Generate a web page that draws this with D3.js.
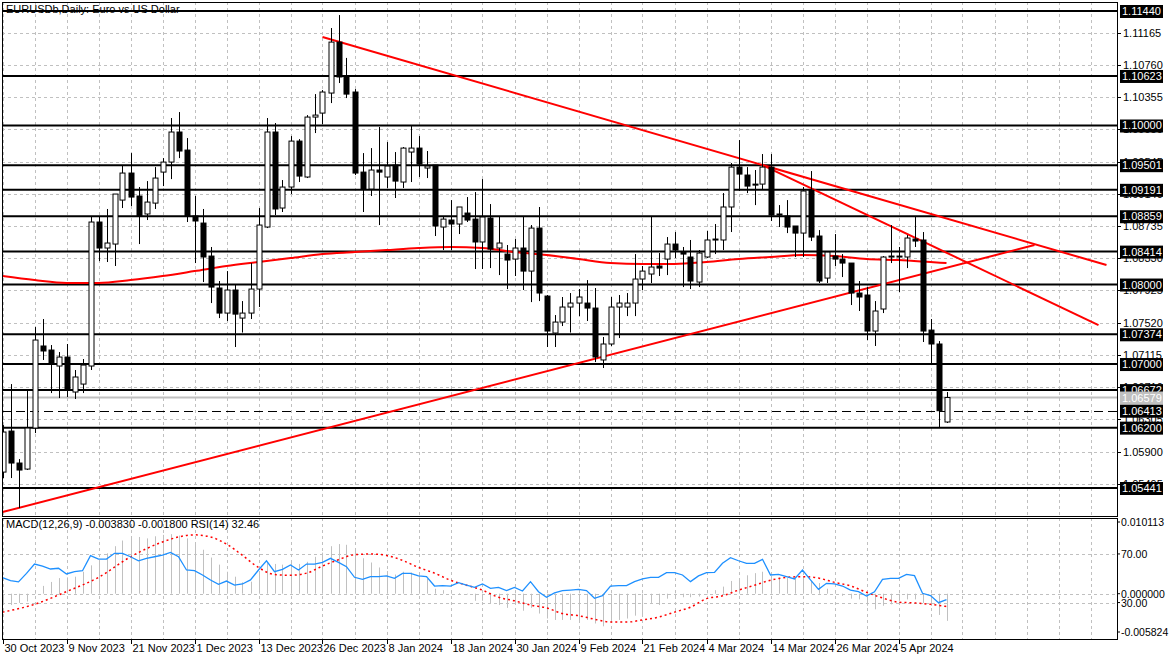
<!DOCTYPE html>
<html><head><meta charset="utf-8">
<script src="https://cdn.jsdelivr.net/npm/d3@7"></script>
<style>body{margin:0;background:#fff}svg{display:block}text{font-family:"Liberation Sans",Arial,sans-serif;font-size:11px}</style>
</head><body><svg id="c" width="1171" height="660"></svg>
<script>
const openP=[1.05641,1.06157,1.05755,1.05679,1.06195,1.07227,1.07176,1.06975,1.07088,1.06648,1.06748,1.06975,1.08786,1.08459,1.08509,1.09062,1.09402,1.09113,1.08887,1.09024,1.09414,1.09540,1.09918,1.09691,1.08861,1.08773,1.08358,1.07956,1.07641,1.07931,1.07578,1.07641,1.07943,1.08723,1.09918,1.08962,1.09226,1.09804,1.09352,1.10106,1.10156,1.10408,1.11049,1.10610,1.10421,1.09414,1.09201,1.09440,1.09352,1.09502,1.09289,1.09666,1.09716,1.09465,1.09502,1.08723,1.08811,1.08761,1.08899,1.08823,1.08535,1.08836,1.08459,1.08383,1.08320,1.08459,1.08169,1.08710,1.07855,1.07390,1.07528,1.07717,1.07767,1.07767,1.07704,1.07051,1.07252,1.07717,1.07717,1.07767,1.08069,1.08132,1.08233,1.08320,1.08509,1.08408,1.08346,1.08031,1.08346,1.08560,1.08560,1.08975,1.09477,1.09377,1.09263,1.09263,1.09477,1.08887,1.08861,1.08736,1.08647,1.09188,1.08610,1.08081,1.08358,1.08320,1.08270,1.07893,1.07868,1.07415,1.07692,1.08346,1.08346,1.08346,1.08572,1.08560,1.07427,1.07252,1.06271];
const highP=[1.06232,1.06748,1.05805,1.06673,1.07465,1.07566,1.07239,1.07151,1.07252,1.06925,1.07063,1.08849,1.08849,1.08950,1.09138,1.09502,1.09653,1.09226,1.09301,1.09477,1.09590,1.10094,1.10169,1.09842,1.09113,1.08950,1.08472,1.08044,1.08169,1.07994,1.07792,1.08270,1.08962,1.10094,1.10031,1.09314,1.09867,1.09829,1.10131,1.10395,1.10446,1.11226,1.11389,1.10850,1.10458,1.09653,1.09716,1.09981,1.09792,1.09666,1.09729,1.09993,1.09867,1.09679,1.09502,1.08849,1.09062,1.08975,1.09100,1.09163,1.09326,1.09012,1.08849,1.08497,1.08572,1.08849,1.08748,1.08975,1.07868,1.07616,1.07843,1.07893,1.07943,1.08056,1.07956,1.07340,1.07843,1.07868,1.07893,1.08383,1.08233,1.08849,1.08396,1.08597,1.08660,1.08472,1.08560,1.08434,1.08673,1.08761,1.09150,1.09528,1.09817,1.09477,1.09440,1.09641,1.09641,1.08999,1.09062,1.08736,1.09226,1.09427,1.08685,1.08408,1.08635,1.08383,1.08270,1.08044,1.07968,1.07792,1.08358,1.08748,1.08472,1.08622,1.08849,1.08660,1.07566,1.07289,1.06648];
const lowP=[1.05566,1.05566,1.05188,1.05667,1.06132,1.07051,1.06635,1.06572,1.06585,1.06560,1.06635,1.06925,1.08295,1.08283,1.08233,1.08962,1.08987,1.08509,1.08811,1.08950,1.09238,1.09326,1.09590,1.08786,1.08270,1.08031,1.07767,1.07578,1.07541,1.07214,1.07396,1.07566,1.07717,1.08710,1.08874,1.08912,1.09138,1.09289,1.09339,1.09905,1.10018,1.10282,1.10534,1.10345,1.09377,1.08912,1.09113,1.08748,1.09214,1.09088,1.09214,1.09289,1.09352,1.09339,1.08610,1.08434,1.08434,1.08635,1.08786,1.08195,1.08195,1.08207,1.08119,1.07943,1.08107,1.07931,1.07779,1.07792,1.07214,1.07214,1.07478,1.07396,1.07603,1.07541,1.07025,1.06950,1.07227,1.07327,1.07603,1.07603,1.07931,1.08019,1.08107,1.08119,1.08333,1.07968,1.07943,1.07968,1.08333,1.08383,1.08434,1.08660,1.09176,1.09150,1.08999,1.09201,1.08799,1.08723,1.08647,1.08346,1.08346,1.08547,1.08019,1.08019,1.08233,1.08094,1.07742,1.07667,1.07302,1.07227,1.07641,1.08270,1.07906,1.08207,1.08472,1.07277,1.06987,1.06208,1.06258];
const closeP=[1.06145,1.05755,1.05667,1.06195,1.07302,1.07164,1.07013,1.07088,1.06685,1.06837,1.06987,1.08786,1.08459,1.08522,1.09138,1.09402,1.09100,1.08861,1.09037,1.09339,1.09540,1.09918,1.09679,1.08861,1.08799,1.08346,1.07968,1.07641,1.07931,1.07628,1.07641,1.07943,1.08748,1.09918,1.08950,1.09226,1.09804,1.09364,1.10106,1.10131,1.10421,1.11049,1.10610,1.10395,1.09402,1.09201,1.09440,1.09414,1.09490,1.09301,1.09716,1.09716,1.09515,1.09490,1.08736,1.08823,1.08761,1.08975,1.08811,1.08535,1.08849,1.08446,1.08522,1.08308,1.08459,1.08169,1.08710,1.07893,1.07415,1.07528,1.07717,1.07767,1.07843,1.07704,1.07088,1.07252,1.07717,1.07767,1.07767,1.08069,1.08169,1.08220,1.08207,1.08509,1.08434,1.08383,1.08044,1.08396,1.08560,1.08572,1.08975,1.09477,1.09389,1.09238,1.09251,1.09477,1.08874,1.08874,1.08723,1.08647,1.09176,1.08597,1.08044,1.08408,1.08320,1.08270,1.07893,1.07843,1.07415,1.07667,1.08346,1.08358,1.08358,1.08585,1.08547,1.07415,1.07252,1.06413,1.06579];
const maIdx=[0,4,8,12,16,20,24,28,32,36,40,44,48,52,56,60,64,68,72,76,80,84,88,92,96,100,104,108,112,116,118];
const maVal=[1.08107,1.08056,1.08019,1.08019,1.08056,1.08107,1.08169,1.08233,1.08283,1.08333,1.08383,1.08408,1.08434,1.08459,1.08472,1.08459,1.08408,1.08371,1.08320,1.08270,1.08258,1.08258,1.08283,1.08320,1.08346,1.08371,1.08358,1.08320,1.08308,1.08283,1.08270];
const macdHist=[-0.0016,-0.0016,-0.0013,-0.0011,0.0002,0.0011,0.00166,0.0022,0.0023,0.0024,0.0031,0.0040,0.0047,0.0057,0.0067,0.0075,0.0080,0.0080,0.0078,0.0081,0.0083,0.0084,0.0082,0.0078,0.0069,0.0062,0.0051,0.0041,0.0031,0.0024,0.0016,0.0017,0.0032,0.0043,0.0042,0.0041,0.0044,0.0042,0.0045,0.0052,0.0058,0.0067,0.0070,0.0069,0.0061,0.0050,0.0044,0.0037,0.0032,0.0027,0.0031,0.0030,0.0026,0.0021,0.0007,0.0005,0.0003,0.0001,-0.0001,-0.0010,-0.0010,-0.0014,-0.0016,-0.0020,-0.0012,-0.0024,-0.0020,-0.0028,-0.0035,-0.0037,-0.0037,-0.0037,-0.0040,-0.0037,-0.0042,-0.0046,-0.0040,-0.0037,-0.0035,-0.0031,-0.0030,-0.0013,-0.0016,-0.0007,-0.0007,-0.0005,-0.0005,-0.0004,-0.0001,0.0005,0.0010,0.0018,0.0021,0.0026,0.0029,0.0031,0.0025,0.0023,0.0022,0.0021,0.0024,0.0018,0.0015,0.0007,0.0003,-0.0003,-0.0007,-0.0008,-0.0017,-0.0022,-0.0017,-0.0015,-0.0010,-0.0008,-0.0008,-0.0013,-0.0017,-0.0030,-0.00383];
const sigIdx=[0,4,8,12,16,20,22,24,26,28,30,32,34,36,38,40,42,44,46,48,50,52,54,56,58,60,62,64,66,68,70,72,74,76,78,80,82,84,86,88,90,92,94,96,98,100,102,104,106,108,110,112,114,116,118];
const sigVal=[-0.0026,-0.0015,0.0003,0.0023,0.0052,0.0073,0.0080,0.0083,0.0080,0.0070,0.0054,0.0037,0.0027,0.0026,0.0029,0.0039,0.0048,0.0055,0.0056,0.0054,0.0047,0.0037,0.0029,0.0019,0.0012,0.0005,-0.0005,-0.0010,-0.0016,-0.0020,-0.0028,-0.0031,-0.0036,-0.0040,-0.0040,-0.0037,-0.0033,-0.0026,-0.0019,-0.0007,-0.0003,0.0005,0.0012,0.0019,0.0023,0.0024,0.0022,0.0016,0.0011,0.0002,-0.0006,-0.0012,-0.0013,-0.0015,-0.0018];
const rsi=[50.5,48,47,54,61.7,60,57.6,58.2,53.5,55.4,56.2,68.6,65.8,65.8,70.5,70.5,67.7,64.4,66.4,67.7,69.1,71.3,67.7,56.8,56.2,52.7,48.6,45,47.7,44.4,45.3,48.6,56.8,64.4,55.4,57.3,60.9,56.8,61.7,61.7,63.1,66.4,63.1,59.5,50.8,49.1,51.3,51.3,51.9,49.9,54,54,51.9,51.3,43.6,43.9,43.6,46.3,44.4,42.5,45.3,41.7,42.5,39.8,42.5,39.5,47.2,38.9,34.3,38,39.8,40.3,40.9,39.8,33.5,35.7,43.6,43.9,43.9,47.2,49.4,50.8,50.8,54.6,54.6,52.7,47.2,51.9,54.6,54.8,62.3,66.9,64.4,62.3,62.3,65.6,52.7,53.2,51.3,49.4,56.8,48.6,40.9,45.8,45.3,43.6,40.3,38.9,35.4,38.9,49.1,49.9,49.9,53.2,52.1,37.6,35.7,29.9,32.46];
const levels=[1.11440,1.10623,1.10000,1.09501,1.09191,1.08859,1.08414,1.08000,1.07374,1.07000,1.06672,1.06200,1.05441];
const priceTicks=[1.11165,1.10760,1.10355,1.09950,1.09545,1.09140,1.08735,1.08330,1.07925,1.07520,1.07115,1.06710,1.06305,1.05900,1.05495];
const bidPrice=1.06579, dashPrice=1.06413;
const trendLines=[[40,1.11113,138,1.08245],[95,1.09502,137,1.07490],[0,1.05138,129,1.08497]];
const dateLabels=["30 Oct 2023","9 Nov 2023","21 Nov 2023","1 Dec 2023","13 Dec 2023","26 Dec 2023","8 Jan 2024","18 Jan 2024","30 Jan 2024","9 Feb 2024","21 Feb 2024","4 Mar 2024","14 Mar 2024","26 Mar 2024","5 Apr 2024"];

const svg=d3.select("#c");
const L=2,R=1117,T=2,B=516,IT=518,IB=639;
const x=d3.scaleLinear().domain([0,118]).range([2.5,946.5]);
const y=d3.scaleLinear().domain([1.05441,1.11440]).range([488,11]);
const ym=d3.scaleLinear().domain([-0.005824,0.010113]).range([635,522]);
const yr=d3.scaleLinear().domain([0,100]).range([639,517.5]);
const grid="#c0c0c0";
svg.append("clipPath").attr("id","clipm").append("rect").attr("x",L).attr("y",T).attr("width",R-L).attr("height",B-T);
const vg=d3.range(0,140,4).map(i=>x(i)).filter(v=>v<R);
[[T,B],[IT,IB]].forEach(([a,b])=>svg.selectAll(null).data(vg).join("line").attr("x1",d=>Math.round(d)+.5).attr("x2",d=>Math.round(d)+.5).attr("y1",a).attr("y2",b).attr("stroke",grid).attr("stroke-dasharray","3,3"));
svg.selectAll(null).data(priceTicks).join("line").attr("x1",L).attr("x2",R).attr("y1",d=>Math.round(y(d))+.5).attr("y2",d=>Math.round(y(d))+.5).attr("stroke",grid).attr("stroke-dasharray","3,3");
[ym(0),yr(70),yr(30)].forEach(v=>svg.append("line").attr("x1",L).attr("x2",R).attr("y1",Math.round(v)+.5).attr("y2",Math.round(v)+.5).attr("stroke",grid).attr("stroke-dasharray","3,3"));
svg.selectAll(null).data(levels).join("line").attr("x1",L).attr("x2",R).attr("y1",d=>y(d)).attr("y2",d=>y(d)).attr("stroke","#000").attr("stroke-width",2);
svg.append("line").attr("x1",L).attr("x2",R).attr("y1",y(bidPrice)).attr("y2",y(bidPrice)).attr("stroke","#c0c0c0").attr("stroke-width",2);
svg.append("line").attr("x1",L).attr("x2",R).attr("y1",Math.round(y(dashPrice))+.5).attr("y2",Math.round(y(dashPrice))+.5).attr("stroke","#000").attr("stroke-dasharray","9,5");
svg.append("path").datum(maIdx.map((d,i)=>[d,maVal[i]])).attr("d",d3.line().x(d=>x(d[0])).y(d=>y(d[1])).curve(d3.curveMonotoneX)).attr("fill","none").attr("stroke","#ff0000").attr("stroke-width",2);
svg.append("g").attr("clip-path","url(#clipm)").selectAll("line").data(trendLines).join("line").attr("x1",d=>x(d[0])).attr("y1",d=>y(d[1])).attr("x2",d=>x(d[2])).attr("y2",d=>y(d[3])).attr("stroke","#ff0000").attr("stroke-width",2);
const idx=d3.range(openP.length);
const cg=svg.append("g").attr("clip-path","url(#clipm)");
cg.selectAll("line").data(idx).join("line").attr("x1",i=>Math.round(x(i))+.5).attr("x2",i=>Math.round(x(i))+.5).attr("y1",i=>y(highP[i])).attr("y2",i=>y(lowP[i])).attr("stroke","#000");
cg.selectAll("rect").data(idx).join("rect").attr("x",i=>Math.round(x(i))-2).attr("width",5)
 .attr("y",i=>y(Math.max(openP[i],closeP[i]))).attr("height",i=>Math.max(1,Math.abs(y(openP[i])-y(closeP[i]))))
 .attr("fill",i=>closeP[i]>=openP[i]?"#fff":"#000").attr("stroke","#000");
svg.selectAll(null).data(idx).join("line").attr("x1",i=>Math.round(x(i))+.5).attr("x2",i=>Math.round(x(i))+.5).attr("y1",ym(0)).attr("y2",i=>ym(macdHist[i])).attr("stroke","#c0c0c0");
svg.append("path").datum(sigIdx.map((d,i)=>[d,sigVal[i]])).attr("d",d3.line().x(d=>x(d[0])).y(d=>ym(d[1])).curve(d3.curveMonotoneX)).attr("fill","none").attr("stroke","#ff0000").attr("stroke-width",1.5).attr("stroke-dasharray","2,3");
svg.append("path").datum(rsi).attr("d",d3.line().x((d,i)=>x(i)).y(d=>yr(d))).attr("fill","none").attr("stroke","#1e90ff").attr("stroke-width",1.3);
svg.append("rect").attr("x",L+.5).attr("y",T+.5).attr("width",R-L).attr("height",B-T).attr("fill","none").attr("stroke","#000");
svg.append("rect").attr("x",L+.5).attr("y",IT+.5).attr("width",R-L).attr("height",IB-IT).attr("fill","none").attr("stroke","#000");
const ax=svg.append("g");
priceTicks.forEach(p=>{ax.append("line").attr("x1",R).attr("x2",R+4).attr("y1",Math.round(y(p))+.5).attr("y2",Math.round(y(p))+.5).attr("stroke","#000");ax.append("text").attr("x",R+6).attr("y",y(p)+4).text(p.toFixed(5));});
function tag(p,bg){ax.append("rect").attr("x",R+3).attr("y",y(p)-6).attr("width",43).attr("height",13).attr("fill",bg);ax.append("text").attr("x",R+5).attr("y",y(p)+4).attr("fill","#fff").text(p.toFixed(5));}
levels.forEach(p=>tag(p,"#000"));
tag(bidPrice,"#c0c0c0");
tag(dashPrice,"#000");
[[522,"0.010113"],[yr(70),"70.00"],[ym(0),"0.000000"],[yr(30),"30.00"],[632,"-0.005824"]].forEach(([v,t])=>{ax.append("line").attr("x1",R).attr("x2",R+3).attr("y1",v).attr("y2",v).attr("stroke","#000");ax.append("text").attr("x",R+4).attr("y",v+4).style("font-size","10.5px").text(t);});
dateLabels.forEach((t,k)=>{const xx=Math.round(x(k*8))+.5;ax.append("line").attr("x1",xx).attr("x2",xx).attr("y1",IB).attr("y2",IB+5).attr("stroke","#000");ax.append("text").attr("x",xx+1).attr("y",652).text(t);});
svg.append("text").attr("x",6).attr("y",13).text("EURUSDb,Daily:  Euro vs US Dollar");
svg.append("text").attr("x",6).attr("y",528).text("MACD(12,26,9) -0.003830 -0.001800 RSI(14) 32.46");
</script></body></html>
